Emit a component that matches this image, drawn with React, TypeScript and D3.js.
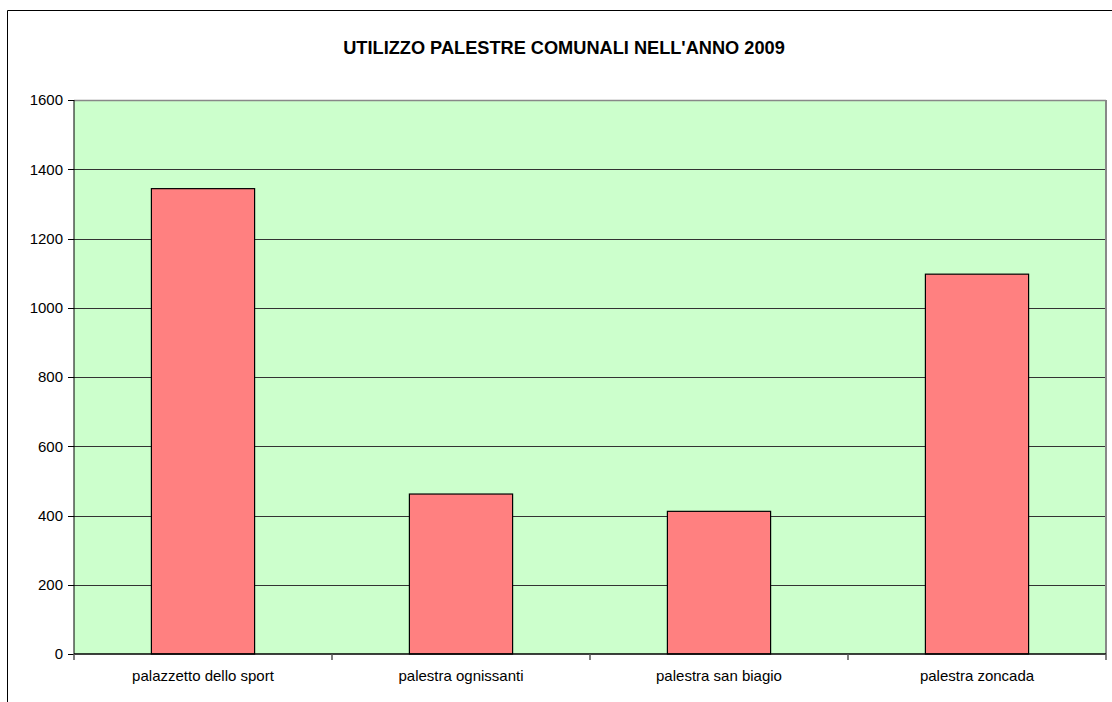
import React from "react";
import * as d3 from "d3";

const categories = ["palazzetto dello sport", "palestra ognissanti", "palestra san biagio", "palestra zoncada"];
const values = [1344, 462, 412, 1097];
const yTicks = [0, 200, 400, 600, 800, 1000, 1200, 1400, 1600];
const title = "UTILIZZO PALESTRE COMUNALI NELL'ANNO 2009";

export default function App() {
  const W = 1112, H = 702;
  const left = 74, right = 1106, top = 100, bottom = 654;
  const x = d3.scaleBand<string>().domain(categories).range([left, right]).padding(0);
  const y = d3.scaleLinear().domain([0, 1600]).range([bottom, top]);
  const bw = x.bandwidth();
  const font = "Liberation Sans, Arial, sans-serif";
  const bounds = [...categories.map((c) => x(c)!), right];
  return (
    <svg width={W} height={H} style={{ position: "absolute", left: 0, top: 0 }}>
      <rect x={0} y={0} width={W} height={H} fill="#fff" />
      <line x1={7.5} y1={10.5} x2={W} y2={10.5} stroke="#000" strokeWidth={1} />
      <line x1={7.5} y1={10.5} x2={7.5} y2={H} stroke="#000" strokeWidth={1} />
      <text x={564} y={53.5} textAnchor="middle" fontFamily={font} fontWeight="bold" fontSize={18.2} fill="#000">{title}</text>
      <rect x={left} y={top} width={right - left} height={bottom - top} fill="#CCFFCC" />
      {yTicks.slice(1, -1).map((t) => (
        <line key={t} x1={left} x2={right} y1={Math.round(y(t)) + 0.5} y2={Math.round(y(t)) + 0.5} stroke="#333" strokeWidth={1} />
      ))}
      <line x1={left} x2={right} y1={top + 0.5} y2={top + 0.5} stroke="#888" strokeWidth={1.5} />
      <line x1={right} x2={right} y1={top} y2={bottom} stroke="#888" strokeWidth={2} />
      {categories.map((c, i) => (
        <rect key={c} x={x(c)! + bw * 0.3} y={y(values[i])} width={bw * 0.4} height={bottom - y(values[i])} fill="#FF8080" stroke="#000" strokeWidth={1.2} />
      ))}
      <line x1={left} x2={left} y1={top} y2={bottom} stroke="#000" strokeWidth={1} />
      <line x1={left} x2={right} y1={bottom} y2={bottom} stroke="#000" strokeWidth={1.5} />
      {yTicks.map((t) => (
        <g key={t}>
          <line x1={left - 6} x2={left} y1={Math.round(y(t)) + 0.5} y2={Math.round(y(t)) + 0.5} stroke="#000" />
          <text x={63} y={y(t)} dy="0.35em" textAnchor="end" fontFamily={font} fontSize={15} fill="#000">{t}</text>
        </g>
      ))}
      {bounds.map((b, i) => (
        <line key={i} x1={b} x2={b} y1={bottom} y2={bottom + 6} stroke="#555" strokeWidth={1.5} />
      ))}
      {categories.map((c) => (
        <text key={c} x={x(c)! + bw / 2} y={681} textAnchor="middle" fontFamily={font} fontSize={15} fill="#000">{c}</text>
      ))}
    </svg>
  );
}
